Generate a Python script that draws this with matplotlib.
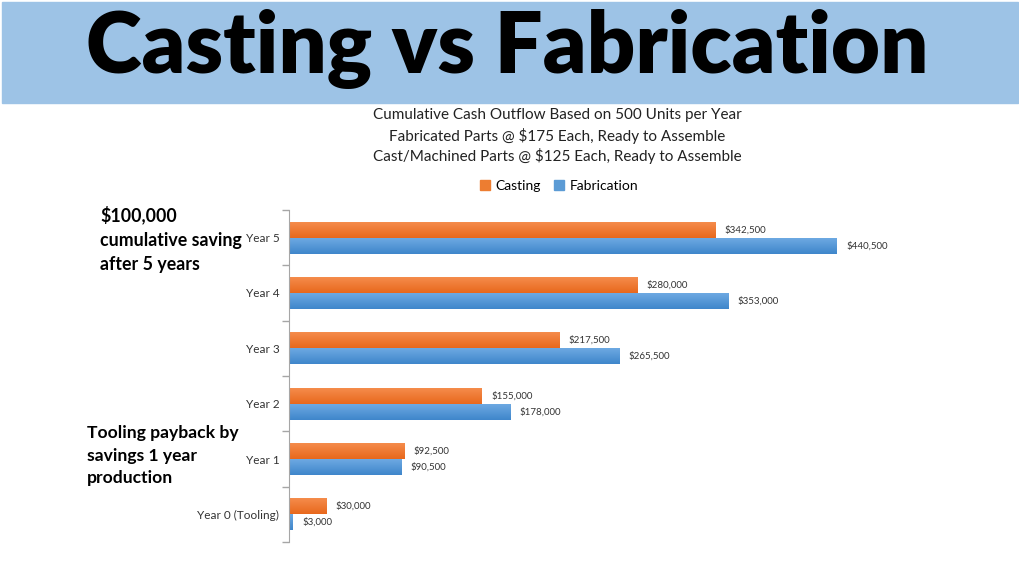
import numpy as np
import matplotlib.pyplot as plt
from matplotlib.patches import Rectangle, Patch
from matplotlib.colors import LinearSegmentedColormap

# data
years = ['Year 0 (Tooling)', 'Year 1', 'Year 2', 'Year 3', 'Year 4', 'Year 5']
casting = [30000, 92500, 155000, 217500, 280000, 342500]
fabrication = [3000, 90500, 178000, 265500, 353000, 440500]

subtitle = ['Cumulative Cash Outflow Based on 500 Units per Year',
            'Fabricated Parts @ $175 Each, Ready to Assemble',
            'Cast/Machined Parts @ $125 Each, Ready to Assemble']

plt.rcParams['font.family'] = ['Lato', 'DejaVu Sans']

fig = plt.figure(figsize=(10.2, 5.73), dpi=100)
W, H = 1020, 573

# title banner
fig.patches.append(Rectangle((2 / W, 1 - 103 / H), 1016 / W, 101 / H,
                             transform=fig.transFigure, color='#9DC3E6', zorder=0))
fig.text(507 / W, 1 - 49 / H, 'Casting vs Fabrication', ha='center', va='center',
         fontsize=61, fontweight='heavy', color='black')

for i, s in enumerate(subtitle):
    fig.text(557 / W, 1 - (115 + i * 20.5) / H, s, ha='center', va='center',
             fontsize=11, color='#222222')

ax = fig.add_axes([289 / W, 31 / H, 622 / W, 332 / H])
y = np.arange(len(years))
h = 0.289

orange = LinearSegmentedColormap.from_list('o', ['#F58C4C', '#E8681C'])
blue = LinearSegmentedColormap.from_list('b', ['#6DA9E2', '#3F86CB'])
grad = np.linspace(0, 1, 64).reshape(-1, 1)

bc = ax.barh(y + h / 2, casting, height=h, color='#ED7D31', label='Casting')
bf = ax.barh(y - h / 2, fabrication, height=h, color='#5B9BD5', label='Fabrication')

# vertical gradient fill on each bar
for bars, cm in [(bc, orange), (bf, blue)]:
    for b in bars:
        x0, y0, bw, bh = b.get_x(), b.get_y(), b.get_width(), b.get_height()
        ax.imshow(grad, cmap=cm, aspect='auto', origin='upper',
                  extent=[x0, x0 + bw, y0, y0 + bh], zorder=2)
        b.set_alpha(0)

for b, v in zip(bc, casting):
    ax.text(v + 7500, b.get_y() + h / 2, f'${v:,}', va='center', ha='left',
            fontsize=7, color='#333333')
for b, v in zip(bf, fabrication):
    ax.text(v + 7500, b.get_y() + h / 2, f'${v:,}', va='center', ha='left',
            fontsize=7, color='#333333')

ax.set_xlim(0, 500000)
ax.set_ylim(-0.5, 5.5)
ax.set_yticks(y)
ax.set_yticklabels(years, fontsize=8.5, color='#333333')
ax.set_yticks(np.arange(-0.5, 6, 1), minor=True)
ax.tick_params(axis='y', which='major', length=0, pad=7)
ax.tick_params(axis='y', which='minor', length=5, color='#A6A6A6', width=1)
ax.set_xticks([])
for s in ['top', 'right', 'bottom']:
    ax.spines[s].set_visible(False)
ax.spines['left'].set_color('#A6A6A6')

handles = [Patch(color='#ED7D31', label='Casting'), Patch(color='#5B9BD5', label='Fabrication')]
fig.legend(handles=handles, loc='center', bbox_to_anchor=(559 / W, 1 - 186 / H), ncol=2,
           frameon=False, fontsize=10, handlelength=0.7, handleheight=0.7,
           columnspacing=1.0, handletextpad=0.4)

# side notes
note1 = '$100,000\ncumulative saving\nafter 5 years'
note2 = 'Tooling payback by\nsavings 1 year\nproduction'
fig.text(100 / W, 1 - 206 / H, note1, ha='left', va='top',
         fontsize=12.8, fontweight='bold', linespacing=1.5)
fig.text(87 / W, 1 - 425 / H, note2, ha='left', va='top',
         fontsize=12.6, fontweight='bold', linespacing=1.5)

fig.savefig('out.png', dpi=100)
